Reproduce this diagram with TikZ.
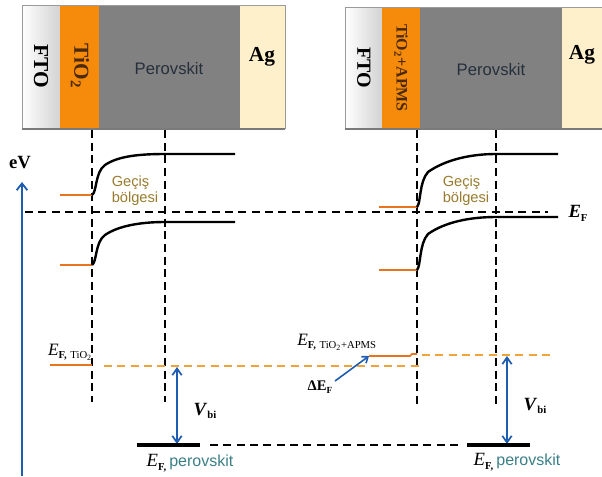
\documentclass[tikz,border=0pt]{standalone}
\usepackage{fontspec}
\setmainfont{Liberation Serif}
\setsansfont{Liberation Sans}
\usetikzlibrary{arrows.meta,calc}
\definecolor{tioC}{HTML}{F58A0B}
\definecolor{tioT}{HTML}{4A2A08}
\definecolor{pvC}{HTML}{818181}
\definecolor{agC}{HTML}{FDF0CB}
\definecolor{edgeC}{HTML}{9A9A9A}
\definecolor{orC}{HTML}{E8741E}
\definecolor{orD}{HTML}{EFA43A}
\definecolor{blC}{HTML}{1F5DB0}
\definecolor{geC}{HTML}{9A7B2E}
\definecolor{pkC}{HTML}{3B7F86}
\definecolor{pvT}{HTML}{26303C}
\newcommand{\fs}[1]{\fontsize{#1}{#1}\selectfont}
\begin{document}
\begin{tikzpicture}[x=0.75pt,y=-0.75pt,
  layer/.style={draw=edgeC,line width=0.5pt},
  vdash/.style={line width=1.3pt,dash pattern=on 6pt off 3.5pt},
  hdash/.style={line width=1.1pt,dash pattern=on 6pt off 4pt},
  odash/.style={orD,line width=1.1pt,dash pattern=on 6pt off 4pt},
  band/.style={line width=1.8pt,black},
  oline/.style={orC,line width=1.5pt},
  fline/.style={line width=3pt,black},
  barrow/.style={blC,line width=1.3pt,{Straight Barb[length=5pt,width=7pt]}-{Straight Barb[length=5pt,width=7pt]}},
  lbl/.style={inner sep=0pt},
  rot/.style={rotate=-90,inner sep=0pt,font=\bfseries}
]
\useasboundingbox (0,0) rectangle (602,476);
% ---------- left stack ----------
\shade[left color=white,right color=gray!35] (22,5) rectangle (60,128);
\fill[tioC] (60,5) rectangle (99,128);
\fill[pvC] (99,5) rectangle (240,128);
\fill[agC] (240,5) rectangle (285,128);
\draw[layer] (22,5) rectangle (285,128);
\draw[edgeC!80!black,line width=1.5pt] (22,129) -- (285,129);
\node[rot,font=\bfseries\fs{16}] (fto1) at (41,66) {FTO};
\node[rot,font=\bfseries\fs{16},text=tioT] (tio1) at (80,66) {TiO\textsubscript{2}};
\node[lbl,font=\sffamily\fs{12.5},text=pvT] (pv1) at (169,69) {Perovskit};
\node[lbl,font=\bfseries\fs{16}] (ag1) at (262,57) {Ag};
% ---------- right stack ----------
\shade[left color=white,right color=gray!35] (345,7) rectangle (382,128);
\fill[tioC] (382,7) rectangle (420,128);
\fill[pvC] (420,7) rectangle (562,128);
\fill[agC] (562,7) rectangle (602,128);
\draw[layer] (602,7) -- (345,7) -- (345,128) -- (602,128);
\draw[edgeC!80!black,line width=1.5pt] (345,129) -- (602,129);
\node[rot,font=\bfseries\fs{15}] (fto2) at (364,68) {FTO};
\node[rot,font=\bfseries\fs{12},text=tioT] (tio2) at (401,68) {TiO\textsubscript{2}+APMS};
\node[lbl,font=\sffamily\fs{12.5},text=pvT] (pv2) at (491,70) {Perovskit};
\node[lbl,font=\bfseries\fs{16}] (ag2) at (582,55) {Ag};
% ---------- coordinates ----------
\coordinate (v1t) at (92,130);  \coordinate (v1b) at (92,402);
\coordinate (v2t) at (165,130); \coordinate (v2b) at (165,402);
\coordinate (v3t) at (417,130); \coordinate (v3b) at (417,405);
\coordinate (v4t) at (496,130); \coordinate (v4b) at (496,407);
\coordinate (efl) at (25,212);  \coordinate (efr) at (548,212);
% vertical dashed lines
\draw[vdash] (v1t) -- (v1b);
\draw[vdash] (v2t) -- (v2b);
\draw[vdash] (v3t) -- (v3b);
\draw[vdash] (v4t) -- (v4b);
% Fermi level dashed
\draw[hdash] (efl) -- (efr);
\node[lbl,font=\fs{14}] (efR) at (578,213) {\textbf{\textit{E}}\raisebox{-0.45ex}{\fs{8}\textbf{F}}};
% eV axis
\coordinate (ax0) at (22,476); \coordinate (ax1) at (22,182);
\draw[blC,line width=1.4pt,-{Straight Barb[length=5pt,width=8pt]}] (ax0) -- (ax1);
\node[lbl,font=\bfseries\fs{14}] (ev) at (20,163) {eV};
% ---------- left bands ----------
\coordinate (lc0) at (60,195); \coordinate (lc1) at (92,195);
\coordinate (lv0) at (60,265); \coordinate (lv1) at (92,265);
\draw[oline] (lc0) -- (lc1);
\draw[oline] (lv0) -- (lv1);
\draw[band] (lc1) .. controls (97,192) and (95,172) .. (105,165) .. controls (118,156) and (140,154) .. (165,154) -- (235,154);
\draw[band] (lv1) .. controls (97,262) and (95,242) .. (105,235) .. controls (118,226) and (140,222) .. (165,222) -- (235,222);
\node[lbl,font=\sffamily\fs{11},text=geC,align=left] (ge1) at (135,191) {Geçiş\\[1pt]bölgesi};
% ---------- right bands ----------
\coordinate (rc0) at (379,207); \coordinate (rc1) at (417,207);
\coordinate (rv0) at (379,270); \coordinate (rv1) at (417,270);
\draw[oline] (rc0) -- (rc1);
\draw[oline] (rv0) -- (rv1);
\draw[band] (rc1) .. controls (421,203) and (419,182) .. (428,172) .. controls (445,160) and (470,154) .. (496,154) -- (558,154);
\draw[band] (rv1) .. controls (421,266) and (419,244) .. (428,234) .. controls (445,222) and (470,217) .. (496,217) -- (558,217);
\node[lbl,font=\sffamily\fs{11},text=geC,align=left] (ge2) at (466,191) {Geçiş\\[1pt]bölgesi};
% ---------- lower part ----------
\coordinate (et0) at (50,365); \coordinate (et1) at (92,365);
\draw[oline] (et0) -- (et1);
\coordinate (od0) at (104,366); \coordinate (od1) at (423,366);
\draw[odash] (od0) -- (od1);
\node[lbl,font=\fs{13}] (eft) at (70,352) {\textit{E}\raisebox{-0.4ex}{\fs{8}\textbf{F,}\,\,TiO\textsubscript{2}}};
\coordinate (ea0) at (369,356); \coordinate (ea1) at (410,356);
\draw[orC,line width=1.2pt] (ea0) -- (ea1) -- (412,354) -- (417,354);
\coordinate (ou0) at (422,355); \coordinate (ou1) at (552,355);
\draw[odash] (ou0) -- (ou1);
\node[lbl,font=\fs{13},anchor=west] (efa) at (297,342) {\textit{E}\raisebox{-0.4ex}{\fs{8}\textbf{F,}\,\,TiO\textsubscript{2}+APMS}};
\coordinate (da0) at (335,381);
\draw[blC,line width=1.2pt,-{Straight Barb[length=4pt,width=6pt]}] (da0) -- (ea0);
\node[lbl,font=\bfseries\fs{11}] (def) at (320,387) {ΔE\raisebox{-0.4ex}{\fs{7}F}};
% Vbi arrows
\coordinate (b1t) at (177,367); \coordinate (b1b) at (177,444);
\draw[barrow] (b1t) -- (b1b);
\node[lbl,font=\fs{14}] (vb1) at (205,411) {\textbf{\textit{V}}\raisebox{-0.4ex}{\fs{8}\textbf{bi}}};
\coordinate (b2t) at (507,356); \coordinate (b2b) at (507,444);
\draw[barrow] (b2t) -- (b2b);
\node[lbl,font=\fs{14}] (vb2) at (535,406) {\textbf{\textit{V}}\raisebox{-0.4ex}{\fs{8}\textbf{bi}}};
% perovskite Fermi levels
\coordinate (p1a) at (137,445); \coordinate (p1b) at (200,445);
\coordinate (p2a) at (467,445); \coordinate (p2b) at (530,445);
\coordinate (pd0) at (210,445); \coordinate (pd1) at (462,445);
\draw[fline] (p1a) -- (p1b);
\draw[fline] (p2a) -- (p2b);
\draw[hdash] (pd0) -- (pd1);
\node[lbl,font=\fs{14}] (efp1) at (190,463) {\textit{E}\raisebox{-0.4ex}{\fs{8}\textbf{F,}}\,{\sffamily\fs{12}\color{pkC}perovskit}};
\node[lbl,font=\fs{14}] (efp2) at (517,462) {\textit{E}\raisebox{-0.4ex}{\fs{8}\textbf{F,}}\,{\sffamily\fs{12}\color{pkC}perovskit}};
\end{tikzpicture}
\end{document}
